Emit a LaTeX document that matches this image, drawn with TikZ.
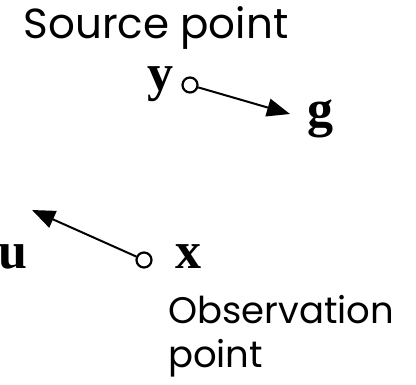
\documentclass[tikz,border=0pt]{standalone}
\usepackage{fontspec}
\setmainfont{Liberation Serif}
\newfontfamily\handfont{Poppins}
\usetikzlibrary{arrows.meta,positioning}

\begin{document}
\begin{tikzpicture}[
    x=1pt, y=1pt,
    pt/.style={circle,draw,line width=2.2pt,minimum size=15pt,inner sep=0pt},
    vec/.style={draw,line width=2pt,-{Triangle[length=23pt,width=18pt]}},
    sym/.style={font=\fontsize{52}{52}\selectfont\bfseries,inner sep=0pt,anchor=base},
    txt/.style={font=\handfont\fontsize{42}{44}\selectfont,inner sep=0pt}
]
    \useasboundingbox (0,0) rectangle (416,384);

    % source point
    \node[pt] (ypt) at (190,299) {};
    \coordinate (gtip) at (290,270);
    \draw[vec] (ypt) -- (gtip);
    \node[sym] (ylab) at (160,294) {y};
    \node[sym] (glab) at (320,258) {g};
    \node[txt,anchor=base] (src) at (156,345) {Source point};

    % observation point
    \node[pt] (xpt) at (144,124) {};
    \coordinate (utip) at (32,174);
    \draw[vec] (xpt) -- (utip);
    \node[sym] (ulab) at (13,116) {u};
    \node[sym] (xlab) at (188,116) {x};
    \node[txt,font=\handfont\fontsize{37}{44}\selectfont,anchor=base west,align=left] (obs) at (168,17) {Observation\\point};
\end{tikzpicture}
\end{document}
